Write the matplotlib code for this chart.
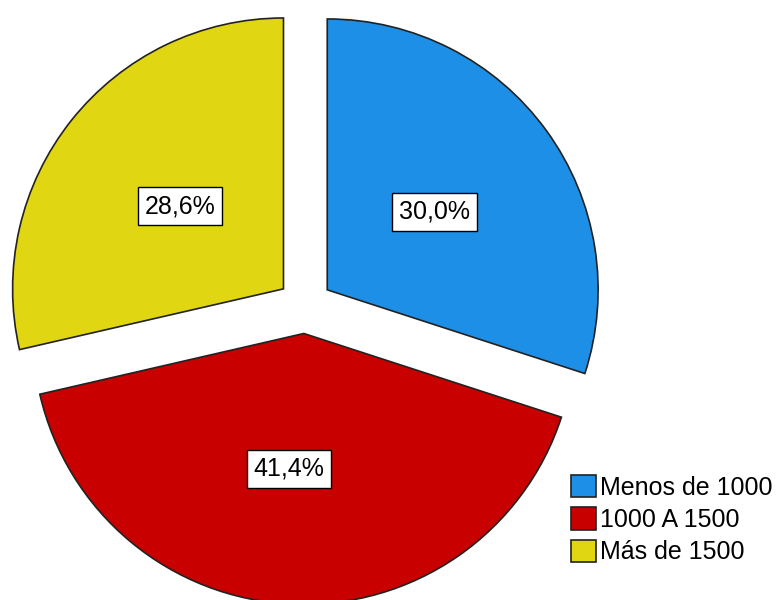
import matplotlib.pyplot as plt

# data
labels = ['Menos de 1000', '1000 A 1500', 'Más de 1500']
values = [30.0, 41.4, 28.6]
colors = ['#1E8FE6', '#C80000', '#E1D612']

plt.rcParams['font.family'] = ['Liberation Sans', 'DejaVu Sans']

fig = plt.figure(figsize=(7.79, 6), dpi=100)
ax = fig.add_axes([0, 0, 1, 1])


def fmt(pct):
    return ('%.1f%%' % pct).replace('.', ',')


wedges, texts, autotexts = ax.pie(
    values, colors=colors, startangle=90, counterclock=False,
    explode=[0.1, 0.1, 0.1], autopct=fmt, pctdistance=0.49,
    wedgeprops=dict(edgecolor='#222222', linewidth=1.2),
    textprops=dict(fontsize=18), radius=0.985)

for t in autotexts:
    t.set_bbox(dict(boxstyle='square,pad=0.27', fc='white', ec='black', lw=1))

# SPSS puts the red label a bit left of the slice middle
x, y = autotexts[1].get_position()
autotexts[1].set_position((x - 0.033, y - 0.01))

ax.set_xlim(-305 / 275, (779 - 305) / 275)
ax.set_ylim((306 - 600) / 275, 306 / 275)
ax.set_aspect('equal')
ax.axis('off')

ax.legend(wedges, labels, loc='upper left', bbox_to_anchor=(571 / 779, 1 - 475 / 600),
          bbox_transform=fig.transFigure, frameon=False, fontsize=18,
          handlelength=1.0, handleheight=1.0, handletextpad=0.15,
          labelspacing=0.3, borderpad=0, borderaxespad=0)

fig.savefig('out.png', dpi=100)
